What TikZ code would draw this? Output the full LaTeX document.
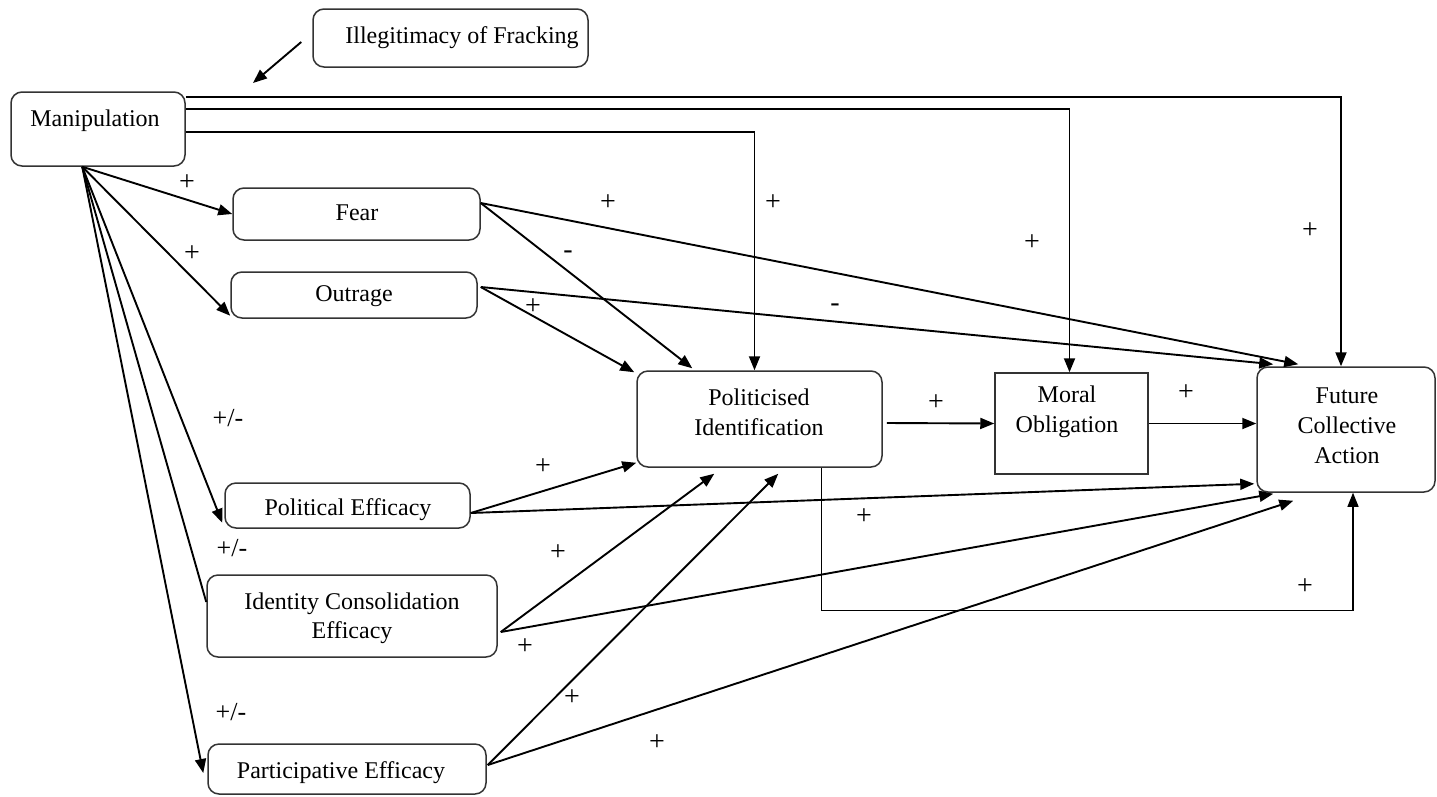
\documentclass[tikz,border=0pt]{standalone}
\usepackage{fontspec}
\setmainfont{Liberation Serif}
\usetikzlibrary{arrows.meta,calc}
\begin{document}
\begin{tikzpicture}[x=1pt,y=-1pt,
  box/.style={draw=black!80,line width=1.5pt,rounded corners=11pt,inner sep=0pt},
  sqbox/.style={draw=black!80,line width=1.5pt,inner sep=0pt},
  txt/.style={anchor=base,inner sep=0pt,font=\fontsize{24}{30}\selectfont},
  sign/.style={inner sep=0pt,font=\fontsize{28}{30}\selectfont},
  pm/.style={inner sep=0pt,font=\fontsize{26}{30}\selectfont},
  arr/.style={line width=1.9pt,-{Triangle[length=14pt,width=11pt]}},
  plain/.style={line width=1.9pt},
  thinarr/.style={line width=1.2pt,-{Triangle[length=14pt,width=11pt]}},
]
\useasboundingbox (0,0) rectangle (1437,796);
\fill[white] (0,0) rectangle (1437,796);

% boxes
\node[box,minimum width=275pt,minimum height=58pt] (illeg) at (450.5,38) {};
\node[box,minimum width=174pt,minimum height=74pt] (manip) at (98,129) {};
\node[box,minimum width=247pt,minimum height=52pt] (fear) at (356.5,214) {};
\node[box,minimum width=246pt,minimum height=46pt] (outrage) at (354,295) {};
\node[box,minimum width=245pt,minimum height=45pt] (poleff) at (347.5,505.5) {};
\node[box,minimum width=290pt,minimum height=82pt] (ideff) at (352,616) {};
\node[box,minimum width=278pt,minimum height=50pt] (parteff) at (347,769) {};
\node[box,minimum width=245pt,minimum height=96pt] (polid) at (759.5,419) {};
\node[sqbox,minimum width=153pt,minimum height=101pt] (moral) at (1071.5,423.5) {};
\node[box,minimum width=178pt,minimum height=125pt] (future) at (1346,429.5) {};

% box texts
\node[txt] (illeg-t) at (462,43) {Illegitimacy of Fracking};
\node[txt] (manip-t) at (95,126) {Manipulation};
\node[txt] (fear-t) at (357,220) {Fear};
\node[txt] (outrage-t) at (354,301) {Outrage};
\node[txt] (poleff-t) at (348,515) {Political Efficacy};
\node[txt] (ideff-t1) at (352,609) {Identity Consolidation};
\node[txt] (ideff-t2) at (352,638) {Efficacy};
\node[txt] (parteff-t) at (341,778) {Participative Efficacy};
\node[txt] (polid-t1) at (759,405) {Politicised};
\node[txt] (polid-t2) at (759,435) {Identification};
\node[txt] (moral-t1) at (1067,402) {Moral};
\node[txt] (moral-t2) at (1067,432) {Obligation};
\node[txt] (future-t1) at (1347,403) {Future};
\node[txt] (future-t2) at (1347,433) {Collective};
\node[txt] (future-t3) at (1347,463) {Action};

% arrow from the legitimacy box towards manipulation
\coordinate (illegtip) at (253,83);
\draw[arr] ($(illeg.west)+(-11,4)$) -- (illegtip);

% direct paths from manipulation along the top
\draw[arr] ($(manip.north east)+(0,6)$) -| ($(future.north)+(-5,0)$);
\draw[arr] ($(manip.north east)+(0,18)$) -| ($(moral.north)+(-2,0)$);
\draw[arr] ($(manip.north east)+(0,41)$) -| ($(polid.north)+(-5,0)$);

% fan from manipulation to emotions and efficacies
\coordinate (fan) at ($(manip.south west)+(72,0)$);
\draw[arr] (fan) -- (fear.west);
\draw[arr] (fan) -- ($(outrage.south west)+(0,-3)$);
\draw[arr] (fan) -- ($(poleff.south west)+(-2,-6)$);
\draw[plain] (fan) -- ($(ideff.west)+(0,-14)$);
\draw[arr] (fan) -- ($(parteff.west)+(-4,4)$);

% emotions
\draw[arr] ($(fear.east)+(0,-11)$) -- ($(polid.north west)+(56,-2)$);
\draw[arr] ($(fear.east)+(0,-11)$) -- ($(future.north west)+(42,-2)$);
\draw[arr] ($(outrage.east)+(3,-8)$) -- ($(polid.north west)+(-2,2)$);
\draw[arr] ($(outrage.east)+(3,-8)$) -- ($(future.north west)+(17,-2)$);

% main chain
\draw[arr] ($(polid.east)+(4,4)$) -- (moral.west);
\draw[arr] (moral.east) -- (moral.east -| future.west);
\draw[thinarr] ($(polid.south)+(62,0)$) -- ++(0,143) -| ($(future.south)+(7,0)$);

% efficacies
\draw[arr] ($(poleff.east)+(0,7.5)$) -- ($(polid.south west)+(0,-5)$);
\draw[arr] ($(poleff.east)+(0,7.5)$) -- ($(future.south west)+(-2,-9)$);
\draw[arr] ($(ideff.east)+(3,16)$) -- ($(polid.south west)+(78,6)$);
\draw[arr] ($(ideff.east)+(3,16)$) -- ($(future.south west)+(17,1)$);
\draw[arr] ($(parteff.east)+(1,-4)$) -- ($(polid.south west)+(142,6)$);
\draw[arr] ($(parteff.east)+(1,-4)$) -- ($(future.south west)+(37,8)$);

% signs
\node[sign] (s1) at (187,183) {+};
\node[sign] (s2) at (192,254) {+};
\node[pm] (s3) at (228,418) {+/-};
\node[pm] (s4) at (232,548) {+/-};
\node[pm] (s5) at (231,712) {+/-};
\node[sign] (s6) at (568,255) {-};
\node[sign] (s7) at (608,203) {+};
\node[sign] (s8) at (773,203) {+};
\node[sign] (s9) at (1032,243) {+};
\node[sign] (s10) at (1310,231) {+};
\node[sign] (s11) at (533,307) {+};
\node[sign] (s12) at (835,308) {-};
\node[sign] (s13) at (936,403) {+};
\node[sign] (s14) at (1186,393) {+};
\node[sign] (s15) at (543,467) {+};
\node[sign] (s16) at (864,517) {+};
\node[sign] (s17) at (558,553) {+};
\node[sign] (s18) at (525,647) {+};
\node[sign] (s19) at (572,698) {+};
\node[sign] (s20) at (657,743) {+};
\node[sign] (s21) at (1305,587) {+};
\end{tikzpicture}
\end{document}
